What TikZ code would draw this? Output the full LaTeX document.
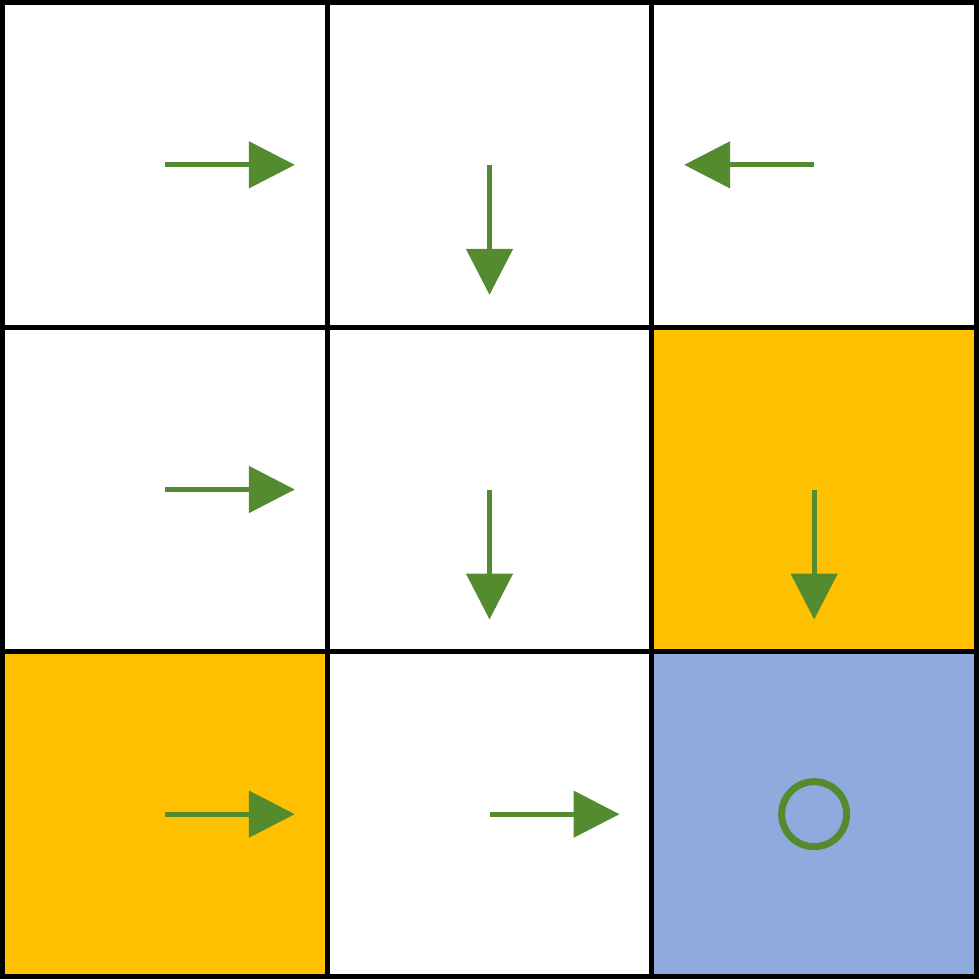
\documentclass[tikz,border=0pt]{standalone}
\usetikzlibrary{arrows.meta,positioning}
\definecolor{cellyellow}{HTML}{FFC000}
\definecolor{cellblue}{HTML}{8FAADC}
\definecolor{policygreen}{HTML}{558B2F}
\tikzset{
  cell/.style={rectangle, draw, line width=5pt, minimum size=324.67pt,
               inner sep=0pt, outer sep=0pt, fill=white},
  move/.style={-{Triangle[length=46pt, width=46pt]}, line width=5pt,
               draw=policygreen},
  goal/.style={circle, draw=policygreen, line width=7pt,
               minimum size=65pt, inner sep=0pt}
}
\begin{document}
\begin{tikzpicture}[x=1pt, y=1pt]
  \useasboundingbox (0,0) rectangle (979,-980);
  % grid of states
  \node[cell] (c11) at (164.83,-164.83) {};
  \node[cell, right=0pt of c11] (c12) {};
  \node[cell, right=0pt of c12] (c13) {};
  \node[cell, below=0pt of c11] (c21) {};
  \node[cell, right=0pt of c21] (c22) {};
  \node[cell, right=0pt of c22, fill=cellyellow] (c23) {};
  \node[cell, below=0pt of c21, fill=cellyellow] (c31) {};
  \node[cell, right=0pt of c31] (c32) {};
  \node[cell, right=0pt of c32, fill=cellblue] (c33) {};
  % policy
  \draw[move] (c11.center) -- ++(130,0);
  \draw[move] (c12.center) -- ++(0,-130);
  \draw[move] (c13.center) -- ++(-130,0);
  \draw[move] (c21.center) -- ++(130,0);
  \draw[move] (c22.center) -- ++(0,-130);
  \draw[move] (c23.center) -- ++(0,-130);
  \draw[move] (c31.center) -- ++(130,0);
  \draw[move] (c32.center) -- ++(130,0);
  \node[goal] (end) at (c33.center) {};
\end{tikzpicture}
\end{document}
